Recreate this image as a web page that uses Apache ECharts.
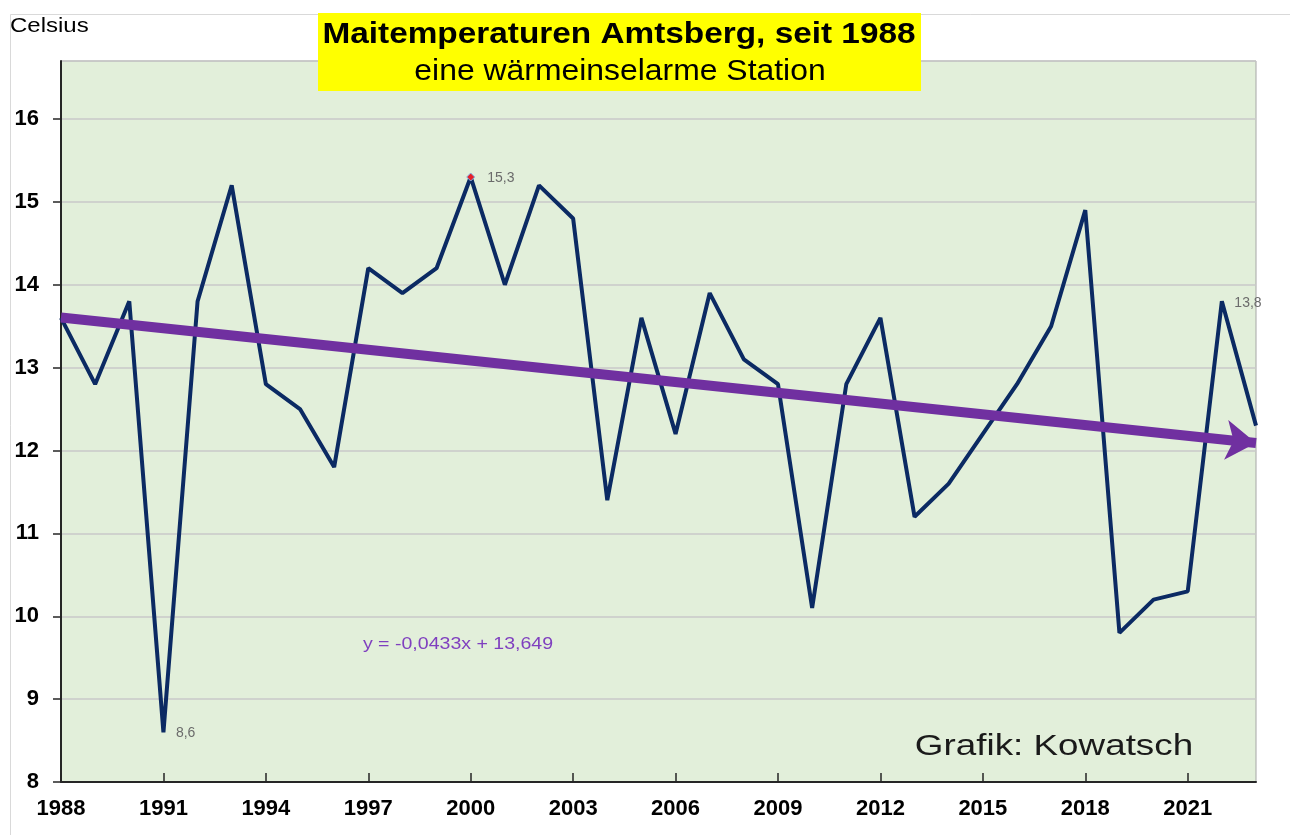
<!DOCTYPE html>
<html>
<head>
<meta charset="utf-8">
<title>Maitemperaturen Amtsberg</title>
<script src="https://cdn.jsdelivr.net/npm/echarts@6/dist/echarts.min.js"></script>
<style>
  html, body { margin: 0; padding: 0; background: #fff; }
  #main { width: 1290px; height: 835px; }
</style>
</head>
<body>
<div id="main"></div>
<script>
// Jahre und Maitemperaturen (Celsius)
var years = [];
for (var y = 1988; y <= 2023; y++) years.push(String(y));
var temps = [13.6, 12.8, 13.8, 8.6, 13.8, 15.2, 12.8, 12.5, 11.8, 14.2,
             13.9, 14.2, 15.3, 14.0, 15.2, 14.8, 11.4, 13.6, 12.2, 13.9,
             13.1, 12.8, 10.1, 12.8, 13.6, 11.2, 11.6, 12.2, 12.8, 13.5,
             14.9, 9.8, 10.2, 10.3, 13.8, 12.3];
var labelled = ['1991', '2000', '2022'];
var trendSlope = -0.0433;
var trendIntercept = 13.649;

var fontFam = 'Liberation Sans, Arial, sans-serif';

var seriesData = temps.map(function (v, i) {
  var item = { value: v };
  if (labelled.indexOf(years[i]) >= 0) {
    item.symbol = 'circle';
    item.symbolSize = 1;
    item.itemStyle = { color: 'rgba(0,0,0,0)' };
    item.label = {
      show: true,
      position: 'right',
      distance: 12,
      offset: years[i] === '2022' ? [0, 2] : [0, 1],
      formatter: function (p) { return String(p.value).replace('.', ','); },
      color: '#6b6b6b',
      fontSize: 14,
      fontFamily: fontFam
    };
  }
  if (years[i] === '2000') {
    item.symbol = 'diamond';
    item.symbolSize = 8;
    item.itemStyle = { color: '#e8202a', borderColor: '#7fb3e6', borderWidth: 1 };
  }
  return item;
});

// Trendlinie: x = 1 fuer 1988
var last = years.length - 1;
var trendStart = trendIntercept + trendSlope * 1;
var trendEnd = trendIntercept + trendSlope * (last + 1);

var chart = echarts.init(document.getElementById('main'));
chart.setOption({
  animation: false,
  backgroundColor: '#ffffff',
  grid: { left: 61, right: 34, top: 61, bottom: 53, show: true, backgroundColor: '#e2efda', borderColor: '#a6a6a6', borderWidth: 1 },
  graphic: [
    { type: 'rect', left: 8, top: 12, z: -10, shape: { width: 1300, height: 840 },
      style: { fill: 'none', stroke: '#d9d9d9', lineWidth: 1 } },
    { type: 'text', x: 10, y: 26, scaleX: 1.2, style: { text: 'Celsius', verticalAlign: 'middle', fontSize: 20, fontFamily: fontFam, fill: '#000' } },
    { type: 'rect', left: 318, top: 13, z: 10, shape: { width: 603, height: 78 }, style: { fill: '#ffff00' } },
    { type: 'text', x: 619, y: 35, z: 11, scaleX: 1.15, style: { text: 'Maitemperaturen Amtsberg, seit 1988', align: 'center', verticalAlign: 'middle',
      fontSize: 29, fontWeight: 'bold', fontFamily: fontFam, fill: '#000' } },
    { type: 'text', x: 620, y: 72, z: 11, scaleX: 1.1, style: { text: 'eine wärmeinselarme Station', align: 'center', verticalAlign: 'middle',
      fontSize: 29, fontFamily: fontFam, fill: '#000' } },
    { type: 'text', x: 458, y: 644, z: 11, scaleX: 1.15, style: { text: 'y = -0,0433x + 13,649', align: 'center', verticalAlign: 'middle',
      fontSize: 17, fontFamily: fontFam, fill: '#7f3fbf' } },
    { type: 'text', x: 1054, y: 747, z: 11, scaleX: 1.27, style: { text: 'Grafik: Kowatsch', align: 'center', verticalAlign: 'middle',
      fontSize: 29, fontFamily: fontFam, fill: '#1a1a1a' } }
  ],
  xAxis: {
    type: 'category',
    data: years,
    boundaryGap: false,
    axisLine: { lineStyle: { color: '#262626', width: 2 } },
    axisTick: { inside: true, length: 9, interval: 2, lineStyle: { color: '#262626', width: 1.5 } },
    axisLabel: { interval: 2, color: '#000', fontSize: 22, fontWeight: 'bold', fontFamily: fontFam, margin: 16 },
    splitLine: { show: false }
  },
  yAxis: {
    type: 'value',
    min: 8,
    max: 16.7,
    interval: 1,
    axisLine: { show: true, lineStyle: { color: '#262626', width: 2 } },
    axisTick: { show: true, length: 8, lineStyle: { color: '#262626', width: 1.5 } },
    axisLabel: { showMaxLabel: false, color: '#000', fontSize: 22, fontWeight: 'bold', fontFamily: fontFam, margin: 22 },
    splitLine: { lineStyle: { color: '#c9c9c9', width: 1.5 } }
  },
  series: [
    {
      type: 'line',
      data: seriesData,
      symbol: 'none',
      showSymbol: true,
      lineStyle: { color: '#0b2a63', width: 4 },
      z: 3,
      markLine: {
        silent: true,
        symbol: ['none', 'arrow'],
        symbolSize: [30, 30],
        label: { show: false },
        lineStyle: { color: '#7030a0', width: 10, type: 'solid', opacity: 1 },
        data: [[{ coord: [0, trendStart] }, { coord: [last, trendEnd] }]]
      }
    }
  ]
});
</script>
</body>
</html>
